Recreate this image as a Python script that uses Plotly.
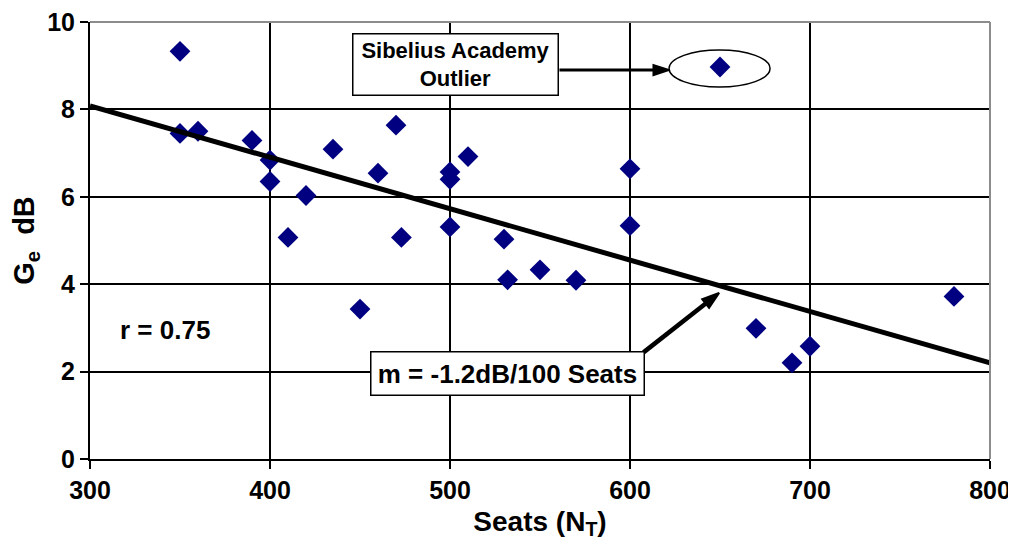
import plotly.graph_objects as go

# ---- data ----
seats = [350, 350, 360, 390, 400, 400, 410, 420, 435, 450, 460, 470, 473,
         500, 500, 500, 510, 530, 532, 550, 570, 600, 600, 670, 690, 700, 780]
ge_db = [9.33, 7.45, 7.5, 7.29, 6.84, 6.35, 5.07, 6.03, 7.09, 3.43, 6.54, 7.64, 5.07,
         6.57, 6.4, 5.31, 6.92, 5.03, 4.1, 4.33, 4.09, 6.64, 5.34, 2.99, 2.2, 2.58, 3.72]
outlier_seats = [650]
outlier_ge = [8.97]
trend_x = [300, 800]
trend_y = [8.08, 2.2]
sib_arrow_x = [560.8, 621.5]
sib_arrow_y = [8.9, 8.9]
m_arrow_x = [607.5, 649.5]
m_arrow_y = [2.44, 3.8]
x_ticks = [300, 400, 500, 600, 700, 800]
y_ticks = [0, 2, 4, 6, 8, 10]

FONT = "Liberation Sans, Arial, sans-serif"
NAVY = "#000080"

fig = go.Figure()
fig.add_trace(go.Scatter(x=seats + outlier_seats, y=ge_db + outlier_ge, mode="markers",
                         marker=dict(symbol="diamond", size=16, color=NAVY,
                                     line=dict(width=0)),
                         showlegend=False, hoverinfo="skip"))
fig.add_trace(go.Scatter(x=trend_x, y=trend_y, mode="lines",
                         line=dict(color="black", width=5),
                         showlegend=False, hoverinfo="skip"))

# annotation arrows
for ax_, ay_, w, s in [(sib_arrow_x, sib_arrow_y, 3, 16), (m_arrow_x, m_arrow_y, 4.5, 18)]:
    fig.add_trace(go.Scatter(x=ax_, y=ay_, mode="lines+markers",
                             line=dict(color="black", width=w),
                             marker=dict(symbol="arrow", angleref="previous",
                                         size=[0, s], color="black", opacity=1,
                                         line=dict(width=2, color="black")),
                             showlegend=False, hoverinfo="skip"))

axis_common = dict(showgrid=True, gridcolor="black", gridwidth=1.5,
                   showline=True, linecolor="black", linewidth=2,
                   ticks="outside", ticklen=8, tickwidth=1.5, tickcolor="black",
                   zeroline=False, automargin=False, ticklabeloverflow="allow",
                   tickfont=dict(family=FONT, size=25, color="black", weight="bold"))

fig.update_xaxes(range=[300, 800], tickvals=x_ticks, ticktext=[str(v) for v in x_ticks],
                 title=dict(text="Seats (N<sub>T</sub>)", standoff=8,
                            font=dict(family=FONT, size=28, color="black", weight="bold")),
                 **axis_common)
fig.update_yaxes(range=[0, 10], tickvals=y_ticks, ticktext=[str(v) for v in y_ticks],
                 title=dict(text="G<sub>e</sub>  dB", standoff=10,
                            font=dict(family=FONT, size=29, color="black", weight="bold")),
                 **axis_common)

# gray top/right border
fig.add_shape(type="line", xref="paper", yref="paper", x0=0, x1=1, y0=1, y1=1,
              line=dict(color="#8c8c8c", width=2), layer="above")
fig.add_shape(type="line", xref="paper", yref="paper", x0=1, x1=1, y0=0, y1=1,
              line=dict(color="#8c8c8c", width=2), layer="above")

# outlier ellipse
fig.add_shape(type="circle", xref="x", yref="y", x0=621.7, x1=677.8, y0=8.51, y1=9.36,
              line=dict(color="black", width=1.5), layer="above")

fig.add_annotation(x=503, y=9.02, xref="x", yref="y", showarrow=False,
                   text="Sibelius Academy<br>Outlier",
                   font=dict(family=FONT, size=22, color="black", weight="bold"),
                   bgcolor="white", bordercolor="black", borderwidth=1.5,
                   width=200, height=56, borderpad=2)
fig.add_annotation(x=531.9, y=1.96, xref="x", yref="y", showarrow=False,
                   text="m = -1.2dB/100 Seats",
                   font=dict(family=FONT, size=26, color="black", weight="bold"),
                   bgcolor="white", bordercolor="black", borderwidth=1.5,
                   width=268, height=38, borderpad=2)
fig.add_annotation(x=341.5, y=2.95, xref="x", yref="y", showarrow=False,
                   text="r = 0.75",
                   font=dict(family=FONT, size=26, color="black", weight="bold"))

fig.update_layout(width=1008, height=536, plot_bgcolor="white", paper_bgcolor="white",
                  margin=dict(l=82, r=26, t=14, b=85), showlegend=False)

fig.write_html("out.html")
